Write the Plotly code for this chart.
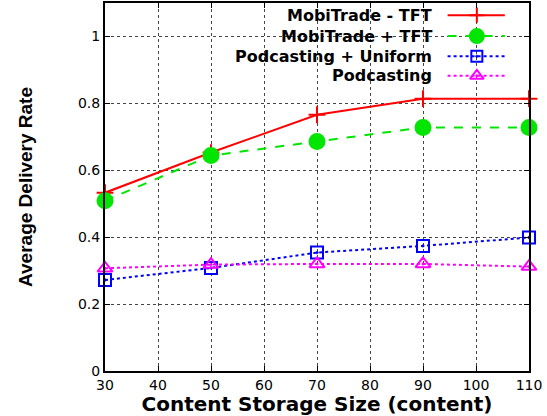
import plotly.graph_objects as go

storage = [30, 50, 70, 90, 110]
mobitrade_minus_tft = [0.533, 0.653, 0.766, 0.814, 0.814]
mobitrade_plus_tft = [0.509, 0.644, 0.686, 0.728, 0.728]
podcasting_uniform = [0.272, 0.308, 0.354, 0.374, 0.399]
podcasting = [0.307, 0.318, 0.320, 0.320, 0.312]

series_names = ["MobiTrade - TFT", "MobiTrade + TFT", "Podcasting + Uniform", "Podcasting"]
x_ticks = [30, 40, 50, 60, 70, 80, 90, 100, 110]
y_ticks = [0, 0.2, 0.4, 0.6, 0.8, 1]
y_tick_labels = ["0", "0.2", "0.4", "0.6", "0.8", "1"]

styles = [
    dict(color="#ff0000", dash="solid", symbol="cross-thin-open", size=12),
    dict(color="#00e600", dash="dash", symbol="circle", size=15),
    dict(color="#0000ff", dash="dot", symbol="square-open-dot", size=12),
    dict(color="#ff00ff", dash="dot", symbol="triangle-up-open-dot", size=13),
]
data = [mobitrade_minus_tft, mobitrade_plus_tft, podcasting_uniform, podcasting]

fig = go.Figure()
for name, ys, st in zip(series_names, data, styles):
    fig.add_trace(go.Scatter(
        x=storage, y=ys, name=name, mode="lines+markers",
        line=dict(color=st["color"], dash=st["dash"], width=2),
        marker=dict(symbol=st["symbol"], size=st["size"], color=st["color"],
                    line=dict(color=st["color"], width=2)),
        showlegend=False, cliponaxis=False,
    ))

# custom legend (text right-aligned, sample to the right) on an overlay axis
legend_y = [0.967, 0.910, 0.855, 0.802]
for name, ly, st in zip(series_names, legend_y, styles):
    fig.add_trace(go.Scatter(
        x=[0.808, 0.943], y=[ly, ly], mode="lines", xaxis="x2", yaxis="y2",
        line=dict(color=st["color"], dash=st["dash"], width=2),
        showlegend=False, hoverinfo="skip",
    ))
    fig.add_trace(go.Scatter(
        x=[0.877], y=[ly], mode="markers", xaxis="x2", yaxis="y2",
        marker=dict(symbol=st["symbol"], size=st["size"] - 1, color=st["color"],
                    line=dict(color=st["color"], width=2)),
        showlegend=False, hoverinfo="skip",
    ))
    fig.add_annotation(x=0.774, y=ly, xref="x2", yref="y2", text="<b>%s</b>" % name,
                       showarrow=False, xanchor="right", yanchor="middle",
                       borderpad=0,
                       font=dict(family="DejaVu Sans", size=16, color="black"))

fig.update_layout(
    width=547, height=416,
    margin=dict(l=105, r=18, t=3, b=45),
    paper_bgcolor="white", plot_bgcolor="white",
    font=dict(family="DejaVu Sans", color="black"),
    xaxis=dict(
        range=[30, 110], tickvals=x_ticks, ticks="inside", ticklen=5,
        tickcolor="black", mirror="allticks", showline=True, linecolor="black", linewidth=2,
        showgrid=True, gridcolor="#444444", griddash="dot", gridwidth=1,
        zeroline=False, tickfont=dict(size=14, family="DejaVu Sans"),
        automargin=False,
        title=dict(text="<b>Content Storage Size (content)</b>", standoff=1,
                   font=dict(size=20, family="DejaVu Sans")),
    ),
    yaxis=dict(
        range=[0, 1.1], tickvals=y_ticks, ticktext=y_tick_labels, ticks="inside", ticklen=5,
        tickcolor="black", mirror="allticks", showline=True, linecolor="black", linewidth=2,
        showgrid=True, gridcolor="#444444", griddash="dot", gridwidth=1,
        zeroline=False, tickfont=dict(size=14, family="DejaVu Sans"),
        automargin=False,
        title=dict(text="<b>Average Delivery Rate</b>", standoff=40,
                   font=dict(size=19, family="Liberation Sans")),
    ),
    xaxis2=dict(range=[0, 1], overlaying="x", visible=False, fixedrange=True),
    yaxis2=dict(range=[0, 1], overlaying="y", visible=False, fixedrange=True),
)

fig.write_html("out.html", config={"displayModeBar": False},
               post_script="document.body.style.margin='0';")
